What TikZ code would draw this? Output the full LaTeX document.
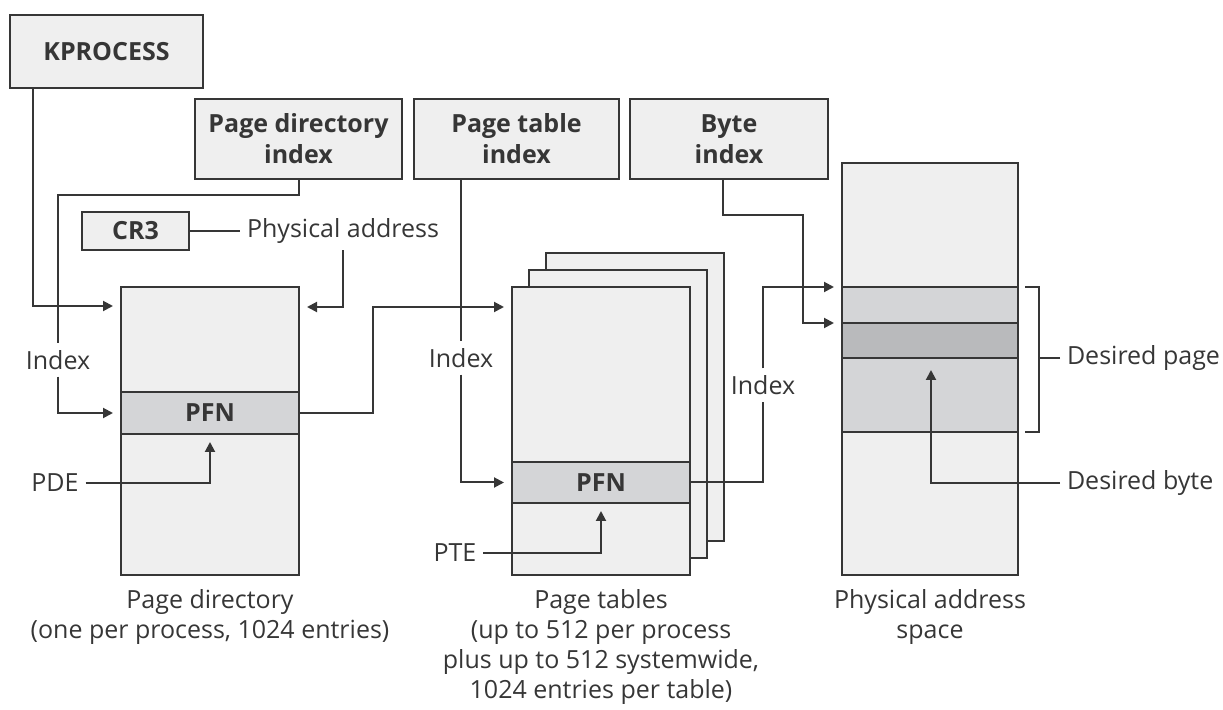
\documentclass[tikz,border=0pt]{standalone}
\usepackage{fontspec}
\setmainfont{Open Sans}
\usetikzlibrary{arrows.meta,calc}
\definecolor{lc}{HTML}{363636}
\definecolor{bg}{HTML}{EFEFEF}
\definecolor{rowa}{HTML}{D4D5D7}
\definecolor{rowb}{HTML}{B9BABC}
\tikzset{
  box/.style={draw=lc, fill=bg, line width=1pt, inner sep=0pt, outer sep=0pt, align=center, font=\fontsize{12.5}{15.5}\selectfont\bfseries},
  rowbox/.style={box, fill=rowa},
  lab/.style={inner sep=3pt, font=\fontsize{12.5}{15}\selectfont},
  arr/.style={-{Triangle[length=5pt,width=5pt]}, shorten >=4pt},
}
\begin{document}
\begin{tikzpicture}[x=0.5pt,y=-0.5pt, line width=1pt, color=lc]
\useasboundingbox (0,0) rectangle (1223,710);
% top boxes
\node[box, minimum width=96.5pt, minimum height=36.5pt] (kp) at (106.5,51.5) {KPROCESS};
\node[box, minimum width=103.5pt, minimum height=40pt] (pdi) at (298.5,139) {Page directory\\index};
\node[box, minimum width=102.5pt, minimum height=40pt] (pti) at (516.5,139) {Page table\\index};
\node[box, minimum width=99pt, minimum height=40pt] (bi) at (729,139) {Byte\\index};
\node[box, minimum width=53.5pt, minimum height=19pt] (cr3) at (135.5,231) {CR3};
\node[lab, anchor=west] (pa) at (240,231) {Physical address};
% page directory
\node[box, minimum width=89pt, minimum height=144pt] (pd) at (210,431) {};
\node[rowbox, minimum width=89pt, minimum height=21pt] (pfn1) at (210,413) {PFN};
% page tables
\node[box, minimum width=89pt, minimum height=144pt] (pt3) at (635,397) {};
\node[box, minimum width=89pt, minimum height=144pt] (pt2) at (618,414) {};
\node[box, minimum width=89pt, minimum height=144pt] (pt1) at (601,431) {};
\node[rowbox, minimum width=89pt, minimum height=20.5pt] (pfn2) at (601,482.5) {PFN};
% physical address space
\node[box, minimum width=88pt, minimum height=206pt] (ph) at (930,369) {};
\node[rowbox, minimum width=88pt, minimum height=18pt] (r1) at (930,305) {};
\node[rowbox, fill=rowb, minimum width=88pt, minimum height=17.5pt] (r2) at (930,340.5) {};
\node[rowbox, minimum width=88pt, minimum height=37pt] (r3) at (930,395) {};
% labels
\node[lab] (idx1) at (58,360) {Index};
\node[lab] (pde) at (55,483) {PDE};
\node[lab] (idx2) at (461,358) {Index};
\node[lab] (pte) at (455,553) {PTE};
\node[lab] (idx3) at (763,385) {Index};
\node[lab, anchor=west] (dp) at (1060,358) {Desired page};
\node[lab, anchor=west] (db) at (1060,483) {Desired byte};
% captions
\node[lab, align=center] (c1) at (210,617) {Page directory\\(one per process, 1024 entries)};
\node[lab, align=center] (c2) at (601,647) {Page tables\\(up to 512 per process\\plus up to 512 systemwide,\\1024 entries per table)};
\node[lab, align=center] (c3) at (930,617) {Physical address\\space};
% connectors
\draw[arr] ($(kp.south west)+(23,0)$) |- ($(pd.north west)+(0,19)$);
\draw (pdi.south) -- ++(0,16) -| (idx1.north);
\draw[arr] (idx1.south) |- (pfn1.west);
\draw (cr3.east) -- (pa.west);
\draw[arr] (pa.south) |- ($(pd.north east)+(0,20)$);
\draw[arr] (pde.east) -| (pfn1.south);
\draw[arr] (pfn1.east) -- ++(74,0) |- ($(pt1.north west)+(0,20)$);
\draw ($(pti.south west)+(47,0)$) -- (idx2.north);
\draw[arr] (idx2.south) |- (pfn2.west);
\draw[arr] (pte.east) -| (pfn2.south);
\draw (pfn2.east) -| (idx3.south);
\draw[arr] (idx3.north) |- (r1.north west);
\draw[arr] ($(bi.south west)+(93,0)$) -- ++(0,36) -| ($(r2.north west)+(-39,0)$) -- (r2.north west);
\draw[arr] (db.west) -| ($(r3.north)+(1,4)$);
\draw ($(r1.north east)+(7,0)$) -- ++(14,0) |- ($(r3.south east)+(7,0)$);
\draw (dp.west) -- ++(-21,0);
\end{tikzpicture}
\end{document}
